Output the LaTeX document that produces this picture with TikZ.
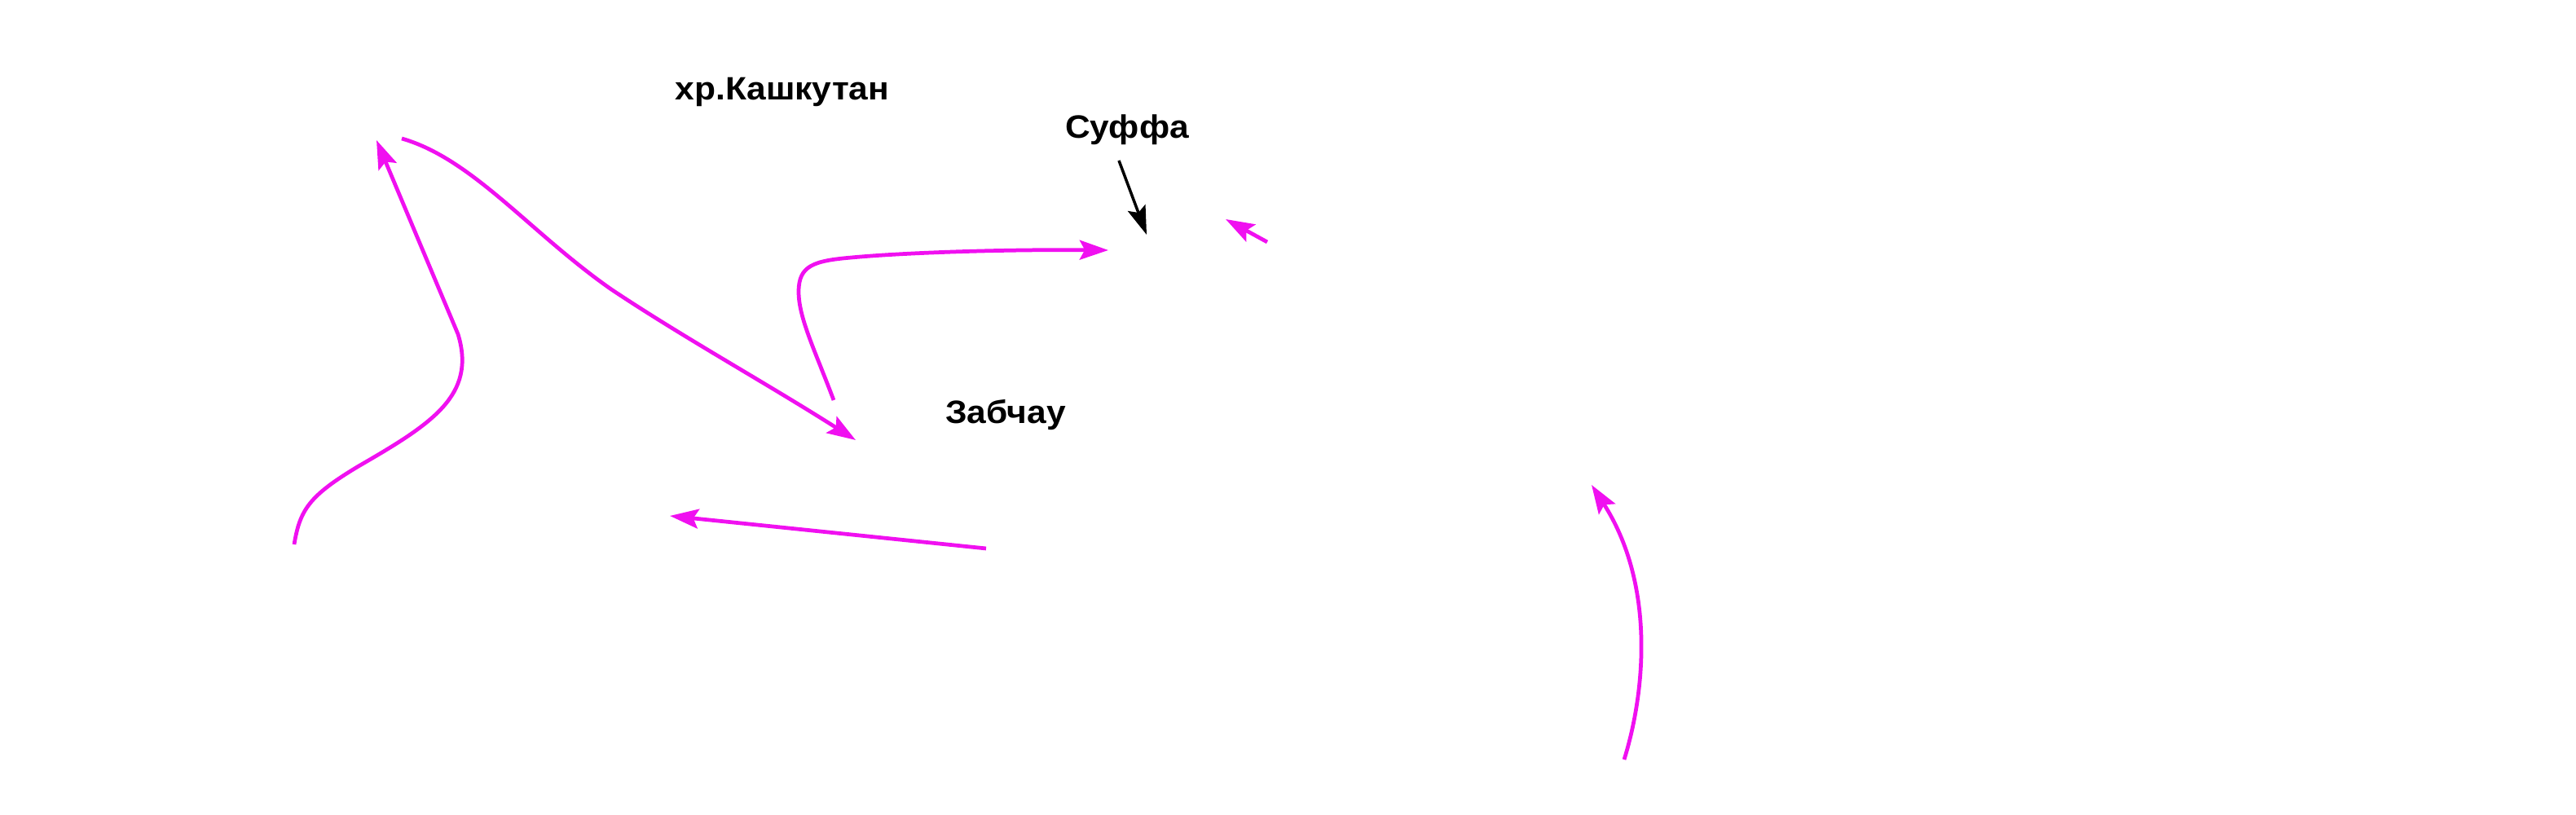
\documentclass[tikz,border=0pt]{standalone}
\usepackage{fontspec}
\newfontfamily\lblfont{Liberation Sans}[FakeStretch=1.07]
\usetikzlibrary{arrows.meta}
\definecolor{route}{RGB}{240,16,240}
\tikzset{
  lbl/.style={font=\lblfont\bfseries\fontsize{11.3}{13}\selectfont, anchor=base, inner sep=0pt},
  routeline/.style={draw=route, line width=1.35pt, -{Stealth[length=10pt,width=6.8pt,inset=1.8pt]}},
  pointer/.style={draw=black, line width=1pt, -{Stealth[length=10pt,width=6.5pt,inset=1.8pt]}}
}
\begin{document}
\begin{tikzpicture}
\useasboundingbox (0,0) rectangle (31.61,10);
% labels
\node[lbl] (kash) at (9.60,8.77) {хр.Кашкутан};
\node[lbl] (suffa) at (13.83,8.30) {Суффа};
\node[lbl] (zab) at (12.34,4.80) {Забчау};
% end points
\coordinate (a1) at (3.61,3.32);
\coordinate (a2) at (4.62,8.28);
\coordinate (b1) at (4.93,8.30);
\coordinate (b2) at (10.50,4.60);
\coordinate (c1) at (10.23,5.09);
\coordinate (c2) at (13.60,6.93);
\coordinate (d1) at (13.73,8.03);
\coordinate (d2) at (14.07,7.12);
\coordinate (e1) at (15.55,7.03);
\coordinate (e2) at (15.04,7.31);
\coordinate (f1) at (12.10,3.27);
\coordinate (f2) at (8.22,3.67);
\coordinate (g1) at (19.93,0.68);
\coordinate (g2) at (19.53,4.05);
% routes
\draw[routeline] (a1) .. controls (3.68,3.75) and (3.80,3.92) .. (4.40,4.28)
  .. controls (5.30,4.80) and (5.85,5.15) .. (5.62,5.90) -- (a2);
\draw[routeline] (b1) .. controls (5.80,8.05) and (6.50,7.15) .. (7.50,6.45)
  .. controls (8.40,5.85) and (9.40,5.30) .. (b2);
\draw[routeline] (c1) .. controls (10.00,5.70) and (9.80,6.10) .. (9.80,6.42)
  .. controls (9.80,6.74) and (9.98,6.80) .. (10.45,6.84)
  .. controls (11.10,6.90) and (12.30,6.94) .. (c2);
\draw[pointer] (d1) -- (d2);
\draw[routeline] (e1) -- (e2);
\draw[routeline] (f1) -- (f2);
\draw[routeline] (g1) .. controls (20.20,1.55) and (20.30,2.85) .. (g2);
\end{tikzpicture}
\end{document}
